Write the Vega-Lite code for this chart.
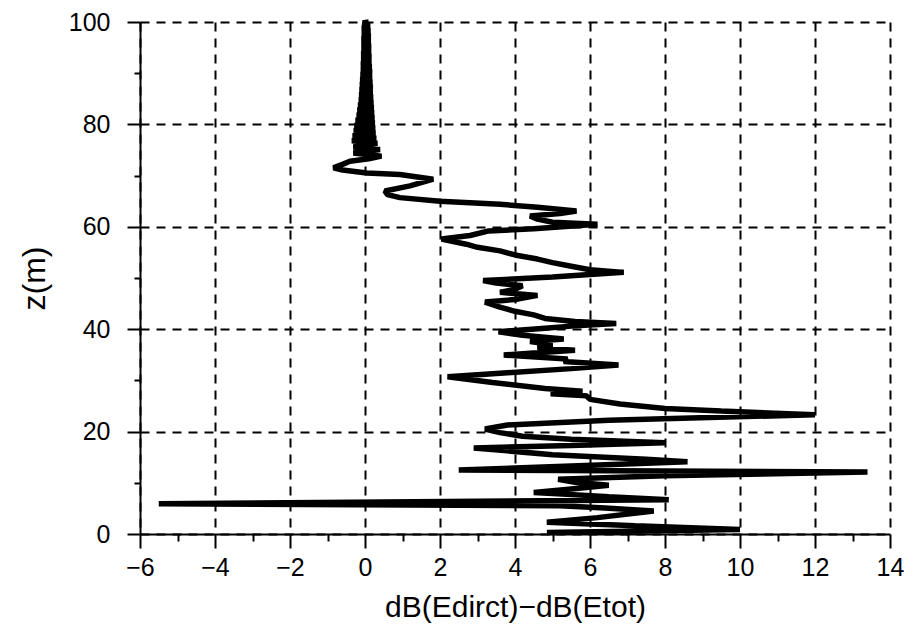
{
  "$schema": "https://vega.github.io/schema/vega-lite/v6.json",
  "width": 750,
  "height": 512,
  "autosize": {"type": "none"},
  "padding": {"left": 140, "top": 22, "right": 26, "bottom": 90},
  "background": "white",
  "config": {
    "view": {"stroke": null},
    "axis": {
      "labelFont": "Liberation Sans",
      "titleFont": "Liberation Sans",
      "labelColor": "black",
      "titleColor": "black",
      "labelFontSize": 25,
      "titleFontSize": 30,
      "titleFontWeight": "normal",
      "domainColor": "black",
      "domainWidth": 2,
      "tickColor": "black",
      "tickWidth": 2,
      "gridColor": "black",
      "gridWidth": 2,
      "gridDash": [9, 7]
    }
  },
  "data": {
    "values": [
      {"z": 0.3, "x": 4.85}, {"z": 0.9, "x": 10.0}, {"z": 1.6, "x": 7.2}, {"z": 2.3, "x": 4.85},
      {"z": 3.2, "x": 6.2}, {"z": 4.5, "x": 7.7}, {"z": 5.1, "x": 6.4}, {"z": 5.5, "x": 5.2},
      {"z": 5.9, "x": -5.5}, {"z": 6.7, "x": 8.1}, {"z": 7.3, "x": 6.5}, {"z": 8.1, "x": 4.5},
      {"z": 8.8, "x": 5.5}, {"z": 9.5, "x": 6.5}, {"z": 10.1, "x": 5.6}, {"z": 10.7, "x": 5.15},
      {"z": 11.4, "x": 8.0}, {"z": 12.1, "x": 13.4}, {"z": 12.5, "x": 2.5}, {"z": 13.3, "x": 5.5},
      {"z": 14.1, "x": 8.6}, {"z": 14.6, "x": 7.5}, {"z": 15.5, "x": 5.0}, {"z": 16.8, "x": 2.9},
      {"z": 17.3, "x": 5.5}, {"z": 17.8, "x": 8.0}, {"z": 18.5, "x": 5.5}, {"z": 19.1, "x": 4.2},
      {"z": 19.8, "x": 3.6}, {"z": 20.5, "x": 3.2}, {"z": 21.3, "x": 3.8}, {"z": 22.2, "x": 6.5},
      {"z": 23.3, "x": 12.0}, {"z": 24.0, "x": 9.5}, {"z": 24.5, "x": 8.0}, {"z": 25.4, "x": 6.8},
      {"z": 26.3, "x": 6.0}, {"z": 27.0, "x": 5.9}, {"z": 27.4, "x": 4.95}, {"z": 27.9, "x": 5.8},
      {"z": 28.4, "x": 4.8}, {"z": 29.6, "x": 3.4}, {"z": 30.7, "x": 2.2}, {"z": 31.5, "x": 3.8},
      {"z": 32.3, "x": 5.5}, {"z": 33.0, "x": 6.76}, {"z": 33.7, "x": 5.3}, {"z": 34.2, "x": 5.4},
      {"z": 34.95, "x": 3.7}, {"z": 35.4, "x": 4.6}, {"z": 35.9, "x": 5.6}, {"z": 36.4, "x": 4.6},
      {"z": 37.0, "x": 5.0}, {"z": 37.6, "x": 4.4}, {"z": 38.1, "x": 5.3}, {"z": 38.8, "x": 4.2},
      {"z": 39.5, "x": 3.56}, {"z": 40.2, "x": 4.8}, {"z": 40.6, "x": 5.5}, {"z": 41.1, "x": 6.7},
      {"z": 41.5, "x": 5.6}, {"z": 42.1, "x": 4.8}, {"z": 42.8, "x": 4.5}, {"z": 43.5, "x": 4.0},
      {"z": 44.3, "x": 3.6}, {"z": 45.3, "x": 3.2}, {"z": 45.8, "x": 4.0}, {"z": 46.6, "x": 4.6},
      {"z": 47.2, "x": 3.6}, {"z": 47.8, "x": 4.0}, {"z": 48.5, "x": 4.2}, {"z": 49.0, "x": 3.5},
      {"z": 49.5, "x": 3.15}, {"z": 50.2, "x": 5.0}, {"z": 51.1, "x": 6.9}, {"z": 51.6, "x": 6.0},
      {"z": 52.3, "x": 5.5}, {"z": 53.0, "x": 5.0}, {"z": 53.7, "x": 4.6}, {"z": 54.5, "x": 4.0},
      {"z": 55.3, "x": 3.6}, {"z": 56.0, "x": 3.0}, {"z": 56.6, "x": 2.7}, {"z": 57.6, "x": 2.04},
      {"z": 58.3, "x": 2.8}, {"z": 59.2, "x": 3.3}, {"z": 59.6, "x": 4.5}, {"z": 60.5, "x": 6.2},
      {"z": 60.9, "x": 5.0}, {"z": 61.5, "x": 4.6}, {"z": 62.1, "x": 4.4}, {"z": 62.6, "x": 5.2},
      {"z": 63.1, "x": 5.64}, {"z": 63.8, "x": 4.6}, {"z": 64.4, "x": 3.6}, {"z": 65.0, "x": 2.0},
      {"z": 65.7, "x": 0.93}, {"z": 66.3, "x": 0.6}, {"z": 67.0, "x": 0.53}, {"z": 68.0, "x": 1.2},
      {"z": 69.3, "x": 1.82}, {"z": 70.2, "x": 0.93}, {"z": 70.5, "x": 0.05}, {"z": 71.1, "x": -0.6},
      {"z": 71.5, "x": -0.84}, {"z": 72.2, "x": -0.6}, {"z": 72.8, "x": -0.4}, {"z": 73.3, "x": 0.1},
      {"z": 73.8, "x": 0.44}, {"z": 74.4, "x": -0.31}, {"z": 75.1, "x": 0.4}, {"z": 75.6, "x": -0.31},
      {"z": 76.3, "x": 0.33}, {"z": 76.8, "x": -0.35}, {"z": 77.3, "x": 0.30}, {"z": 77.8, "x": -0.33},
      {"z": 78.3, "x": 0.28}, {"z": 78.8, "x": -0.30}, {"z": 79.3, "x": 0.27}, {"z": 79.8, "x": -0.28},
      {"z": 80.3, "x": 0.26}, {"z": 80.8, "x": -0.25}, {"z": 81.3, "x": 0.25}, {"z": 81.8, "x": -0.22},
      {"z": 82.3, "x": 0.24}, {"z": 82.8, "x": -0.20}, {"z": 83.3, "x": 0.23}, {"z": 83.8, "x": -0.18},
      {"z": 84.3, "x": 0.22}, {"z": 84.8, "x": -0.16}, {"z": 85.3, "x": 0.21}, {"z": 85.8, "x": -0.15},
      {"z": 86.3, "x": 0.20}, {"z": 86.8, "x": -0.14}, {"z": 87.3, "x": 0.20}, {"z": 87.8, "x": -0.13},
      {"z": 88.3, "x": 0.19}, {"z": 88.8, "x": -0.12}, {"z": 89.3, "x": 0.18}, {"z": 89.8, "x": -0.11},
      {"z": 90.3, "x": 0.18}, {"z": 90.8, "x": -0.10}, {"z": 91.3, "x": 0.17}, {"z": 91.8, "x": -0.10},
      {"z": 92.3, "x": 0.16}, {"z": 92.8, "x": -0.09}, {"z": 93.3, "x": 0.16}, {"z": 93.8, "x": -0.09},
      {"z": 94.3, "x": 0.15}, {"z": 94.8, "x": -0.08}, {"z": 95.3, "x": 0.15}, {"z": 95.8, "x": -0.08},
      {"z": 96.3, "x": 0.14}, {"z": 96.8, "x": -0.08}, {"z": 97.3, "x": 0.14}, {"z": 97.8, "x": -0.07},
      {"z": 98.3, "x": 0.13}, {"z": 98.8, "x": -0.07}, {"z": 99.3, "x": 0.12}, {"z": 99.8, "x": -0.06},
      {"z": 100.0, "x": 0.10}
    ]
  },
  "mark": {"type": "line", "color": "black", "strokeWidth": 5.5, "strokeJoin": "bevel", "clip": false},
  "encoding": {
    "x": {
      "field": "x",
      "type": "quantitative",
      "scale": {"domain": [-6, 14], "nice": false, "zero": false},
      "axis": {
        "title": "dB(Edirct)−dB(Etot)",
        "values": [-6, -5, -4, -3, -2, -1, 0, 1, 2, 3, 4, 5, 6, 7, 8, 9, 10, 11, 12, 13, 14],
        "labelExpr": "datum.value % 2 == 0 ? datum.label : ''",
        "tickSize": {"condition": {"test": "datum.value % 2 == 0", "value": 14}, "value": 7},
        "gridOpacity": {"condition": {"test": "datum.value % 2 == 0", "value": 1}, "value": 0},
        "labelPadding": 7,
        "titlePadding": 12,
        "labelFlush": false,
        "labelOverlap": false
      }
    },
    "y": {
      "field": "z",
      "type": "quantitative",
      "scale": {"domain": [0, 100], "nice": false, "zero": false},
      "axis": {
        "title": "z(m)",
        "titleFontSize": 32,
        "values": [0, 10, 20, 30, 40, 50, 60, 70, 80, 90, 100],
        "labelExpr": "datum.value % 20 == 0 ? datum.label : ''",
        "tickSize": {"condition": {"test": "datum.value % 20 == 0", "value": 13}, "value": 6},
        "gridOpacity": {"condition": {"test": "datum.value % 20 == 0", "value": 1}, "value": 0},
        "labelPadding": 17,
        "titlePadding": 17,
        "labelFlush": false,
        "labelOverlap": false
      }
    },
    "order": {"field": "z", "type": "quantitative"}
  }
}
